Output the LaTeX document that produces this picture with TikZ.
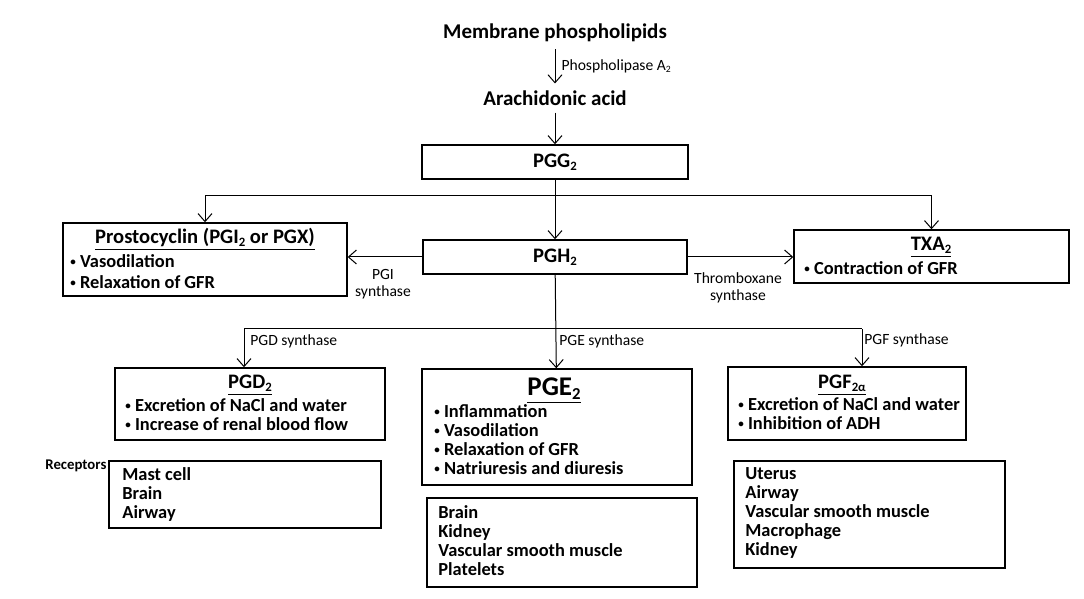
\documentclass[tikz,border=0pt]{standalone}
\usepackage{fontspec}
\setmainfont{Carlito}
\usetikzlibrary{arrows.meta,positioning}
\newcommand{\bul}{\raisebox{0.12em}{\scalebox{0.6}{\textbullet}}\ }
\newcommand{\sbs}[1]{\raisebox{-0.3ex}{\scalebox{0.62}{#1}}}
\begin{document}
\begin{tikzpicture}[x=0.5pt,y=-0.5pt,
		>={Straight Barb[length=4pt,width=7pt]},
		box/.style={draw, line width=0.7pt, inner sep=0pt},
		arr/.style={->, line width=0.5pt},
		head/.style={font=\bfseries\fontsize{10.5}{12}\selectfont},
		ttl/.style={font=\bfseries\fontsize{10.3}{12}\selectfont, inner sep=0pt},
		lst/.style={font=\bfseries\fontsize{9.2}{9.5}\selectfont, align=left, anchor=west, inner sep=0pt},
		lbl/.style={font=\fontsize{7.8}{8.5}\selectfont, inner sep=0pt}]
		\useasboundingbox (0,0) rectangle (1084,599);
		
		% top of the pathway
		\node[head] (mem) at (555,33) {Membrane phospholipids};
		\node[head] (ara) at (555,98) {Arachidonic acid};
		\node[box, minimum width=133pt, minimum height=17pt, font=\bfseries\fontsize{10.3}{12}\selectfont] (pgg) at (555,162) {PGG\sbs{2}};
		\node[box, minimum width=132pt, minimum height=17pt, font=\bfseries\fontsize{10.3}{12}\selectfont] (pgh) at (555,257) {PGH\sbs{2}};
		\draw[arr] (mem) -- (ara) node[lbl, midway, anchor=west, xshift=3pt] (pla) {Phospholipase A\sbs{2}};
		\draw[arr] (ara) -- (pgg);
		\draw[arr] (pgg) -- (pgh);
		
		% prostacyclin and thromboxane
		\node[box, minimum width=142pt, minimum height=36.5pt] (pro) at (205,259.5) {};
		\node[ttl] (proT) at (205,239) {\underline{Prostocyclin (PGI\sbs{2} or PGX)}};
		\node[lst, font=\bfseries\fontsize{9.2}{10.5}\selectfont] (proL) at (70,271.5) {\bul Vasodilation\\ \bul Relaxation of GFR};
		\node[box, minimum width=137.5pt, minimum height=26.5pt] (txa) at (931.5,256.5) {};
		\node[ttl] (txaT) at (931,247) {\underline{TXA\sbs{2}}};
		\node[lst] (txaL) at (804,268) {\bul Contraction of GFR};
		\coordinate (sp) at (555,196);
		\draw[line width=0.5pt] (pro.north |- sp) -- (txa.north |- sp);
		\draw[arr] (pro.north |- sp) -- (pro.north);
		\draw[arr] (txa.north |- sp) -- (txa.north);
		\draw[arr] (pgh.west) -- (pgh.west -| pro.east);
		\draw[arr] (pgh.east) -- (pgh.east -| txa.west);
		\node[lbl, align=center] (pgi) at (383,284) {PGI\\synthase};
		\node[lbl, align=center] (thx) at (738,288) {Thromboxane\\synthase};
		
		% PGD2, PGE2, PGF2a
		\node[box, minimum width=135pt, minimum height=36pt] (pgd) at (250,404) {};
		\node[ttl] (pgdT) at (250,385) {\underline{PGD\sbs{2}}};
		\node[lst] (pgdL) at (125,414.5) {\bul Excretion of NaCl and water\\ \bul Increase of renal blood flow};
		\node[box, minimum width=135pt, minimum height=58pt] (pge) at (557,427) {};
		\node[ttl, font=\bfseries\fontsize{13.5}{15}\selectfont] (pgeT) at (554,391) {\underline{PGE\sbs{2}}};
		\node[lst] (pgeL) at (434,439.5) {\bul Inflammation\\ \bul Vasodilation\\ \bul Relaxation of GFR\\ \bul Natriuresis and diuresis};
		\node[box, minimum width=119pt, minimum height=36.5pt] (pgf) at (847,403.5) {};
		\node[ttl] (pgfT) at (842,385) {\underline{PGF\sbs{2α}}};
		\node[lst] (pgfL) at (738,414) {\bul Excretion of NaCl and water\\ \bul Inhibition of ADH};
		\coordinate (sp2) at (555,329);
		\coordinate (dL) at (244,329);
		\coordinate (fR) at (862,329);
		\draw[line width=0.5pt] (dL) -- (fR);
		\draw[arr] (pgh) -- (pge);
		\draw[arr] (dL) -- (dL |- pgd.north);
		\draw[arr] (fR) -- (fR |- pgf.north);
		\node[lbl, anchor=west] (pgdS) at (250,341) {PGD synthase};
		\node[lbl, anchor=west] (pgeS) at (559,341) {PGE synthase};
		\node[lbl, anchor=west] (pgfS) at (864,340) {PGF synthase};
		
		% receptors
		\node[lst, font=\bfseries\fontsize{7.4}{9}\selectfont] (rec) at (45,466) {Receptors};
		\node[box, minimum width=136pt, minimum height=33.5pt] (pgdR) at (245,494.5) {};
		\node[lst] (pgdRL) at (122,494) {Mast cell\\ Brain\\ Airway};
		\node[box, minimum width=135pt, minimum height=44.5pt] (pgeR) at (562,542.5) {};
		\node[lst] (pgeRL) at (438,540.5) {Brain\\ Kidney\\ Vascular smooth muscle\\ Platelets};
		\node[box, minimum width=135.5pt, minimum height=53.5pt] (pgfR) at (869.5,514.5) {};
		\node[lst] (pgfRL) at (745,513) {Uterus\\ Airway\\ Vascular smooth muscle\\ Macrophage\\ Kidney};
	\end{tikzpicture}
\end{document}
